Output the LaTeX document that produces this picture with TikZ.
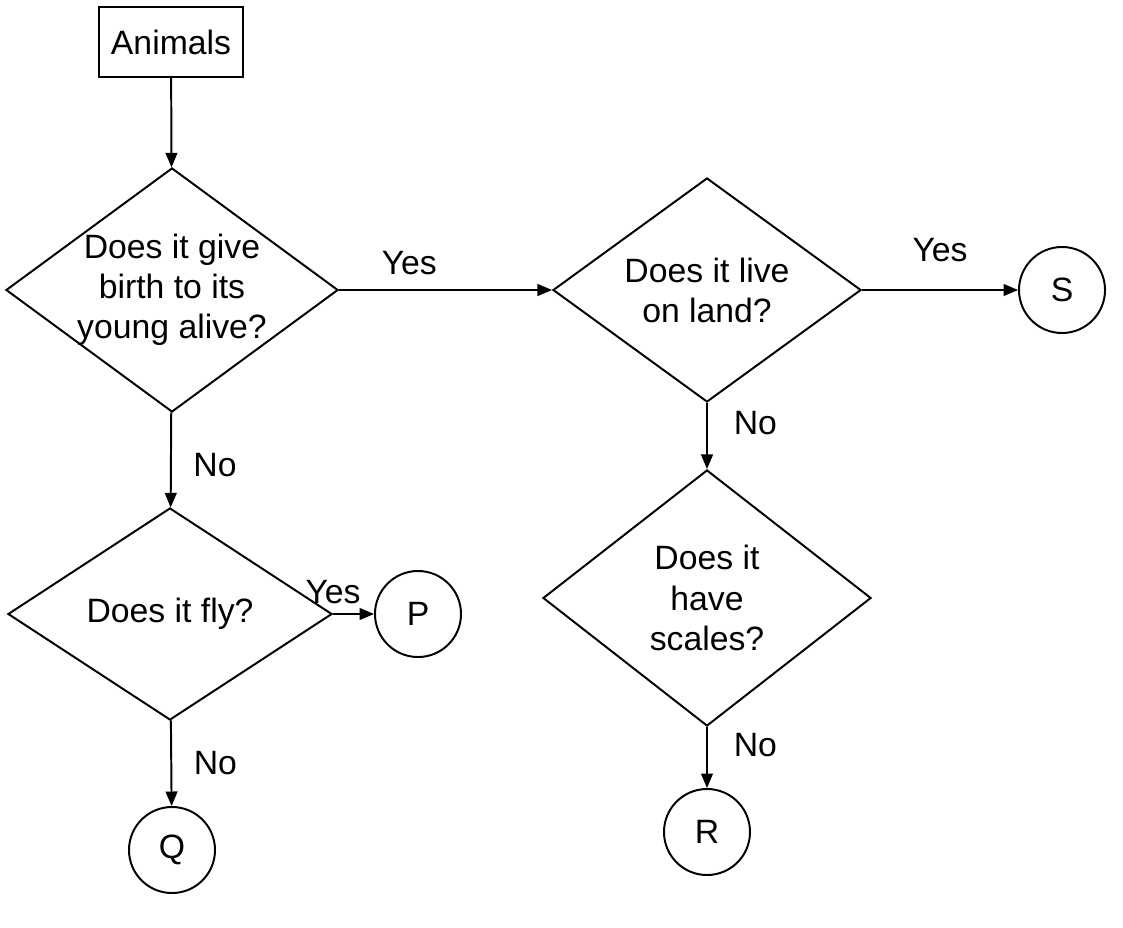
\documentclass[tikz,border=0pt]{standalone}
\usepackage{fontspec}
\setmainfont{Liberation Sans}
\usetikzlibrary{arrows, shapes}
\usetikzlibrary{positioning}

\begin{document}
\begin{tikzpicture}[x=0.025cm,y=-0.025cm,->,>=triangle 45,line width=1.4pt,
	every node/.style={font=\fontsize{24}{28.5}\selectfont},
	start node/.style={rectangle,draw,minimum width=3.6cm,minimum height=1.75cm},
	question node/.style={diamond,draw,inner sep=0pt},
	end node/.style={circle,draw,minimum size=2.15cm}]
	\useasboundingbox (0,0) rectangle (1123,927);
	
	% Nodos
	\node[start node] (animals) at (171,42) {Animals};
	\node[question node,minimum width=8.3cm,minimum height=6.1cm,
		label={[align=center]center:Does it give\\birth to its\\young alive?}] (birth) at (172,290) {};
	\node[question node,minimum width=7.7cm,minimum height=5.6cm,
		label={[align=center]center:Does it live\\on land?}] (land) at (707,290) {};
	\node[question node,minimum width=8.2cm,minimum height=6.4cm,
		label={[align=center]center:Does it\\have\\scales?}] (scales) at (707,598) {};
	\node[question node,minimum width=8.1cm,minimum height=5.3cm,
		label={center:Does it fly?}] (fly) at (170,614) {};
	\node[end node] (s) at (1062,290) {S};
	\node[end node] (p) at (418,614) {P};
	\node[end node] (q) at (172,850) {Q};
	\node[end node] (r) at (707,832) {R};
	
	% Conexiones
	\path
	(animals) edge (birth)
	(birth) edge node[pos=0.33,above=7pt] {Yes} (land)
	(land) edge node[pos=0.5,above=16pt] {Yes} (s)
	(birth) edge node[pos=0.55,right=12pt] {No} (fly)
	(land) edge node[pos=0.3,right=15pt] {No} (scales)
	(fly) edge node[pos=0.0,above=3pt] {Yes} (p)
	(fly) edge node[pos=0.5,right=12pt] {No} (q)
	(scales) edge node[pos=0.3,right=15pt] {No} (r);
\end{tikzpicture}
\end{document}
